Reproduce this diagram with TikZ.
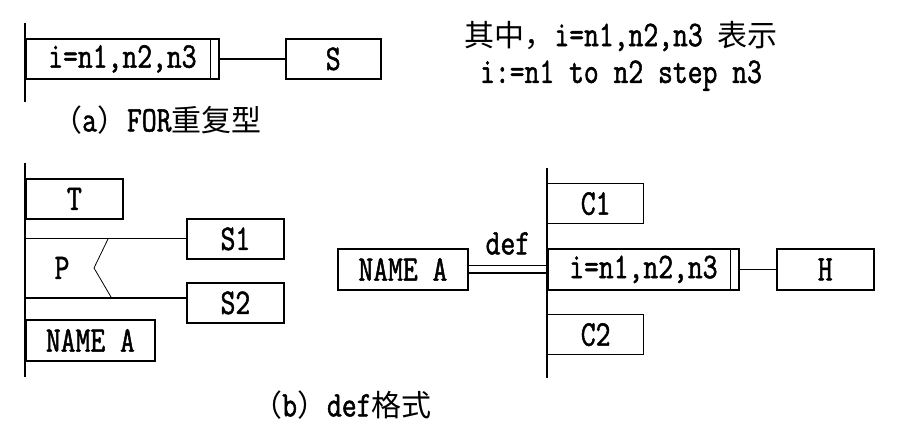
\documentclass[tikz,border=0pt]{standalone}
\usepackage{fontspec}
\setmonofont[FakeStretch=0.8,FakeBold=1.4]{Latin Modern Mono}
\newfontfamily\cjk{Noto Sans CJK SC}
\usepackage{tikz}
\usetikzlibrary{positioning,calc}
\newcommand{\zh}[1]{{\cjk\fontsize{30}{32}\selectfont #1}}
\tikzset{
block/.style = {draw, rectangle, line width=1.8pt, inner sep=0pt, minimum height=40pt, anchor=north west, font=\ttfamily\fontsize{36}{36}\selectfont},
subblock/.style = {block, line width=1.3pt},
spine/.style = {line width=2pt},
link/.style = {line width=1.6pt},
caption/.style = {inner sep=0pt, font=\ttfamily\fontsize{36}{36}\selectfont}
}
\begin{document}
\begin{tikzpicture}[x=1pt,y=-1pt]
   \useasboundingbox (0,0) rectangle (908,435);
   % (a) FOR
   \coordinate (topA) at (25,23);
   \coordinate (botA) at (25,102);
   \draw [spine] (topA) -- (botA);
   \node [block, minimum width=193pt] (forA) at (25,38) {i=n1,n2,n3};
   \draw [line width=1.2pt] ([xshift=-9pt]forA.north east) -- ([xshift=-9pt]forA.south east);
   \node [block, minimum width=95pt, right=65pt of forA] (sA) {S};
   \draw [link] (forA) -- (sA);
   \node [caption, anchor=west] (capA) at (52,120) {\zh{（}a\zh{）}FOR\zh{重复型}};
   % note
   \node [caption] (note1) at (621,36) {\zh{其中，}i=n1,n2,n3 \zh{表示}};
   \node [caption, below=9pt of note1] (note2) {i:=n1 to n2 step n3};
   % (b) left
   \coordinate (topB) at (25,163);
   \coordinate (botB) at (25,377);
   \draw [spine] (topB) -- (botB);
   \node [block, minimum width=97pt] (T) at (25,178) {T};
   \node [block, minimum width=97pt] (S1) at (186,218) {S1};
   \node [block, minimum width=97pt] (S2) at (186,282) {S2};
   \node [block, minimum width=129pt, minimum height=41pt] (nameL) at (25,319) {NAME A};
   \draw [line width=1.2pt] (S1.west -| topB) -- (S1.west);
   \draw [line width=2.2pt] ([yshift=5pt]S2.west -| topB) -- ([yshift=5pt]S2.west);
   \draw [line width=0.8pt] (108,239) -- (94,268) -- (111,297);
   \node [caption] (P) at (62,268) {P};
   % (b) right
   \coordinate (topC) at (547,168);
   \coordinate (botC) at (547,378);
   \node [subblock, minimum width=96pt] (C1) at (547,183) {C1};
   \node [block, minimum width=191pt, minimum height=41pt] (forB) at (547,248) {i=n1,n2,n3};
   \draw [line width=1.2pt] ([xshift=-9pt]forB.north east) -- ([xshift=-9pt]forB.south east);
   \node [subblock, minimum width=96pt] (C2) at (547,314) {C2};
   \node [block, minimum width=130pt, minimum height=41pt] (nameR) at (337,248) {NAME A};
   \node [block, minimum width=97pt, minimum height=41pt, right=36pt of forB] (H) {H};
   \draw [link] (forB) -- (H);
   \draw [double, double distance=6pt, line width=1.8pt] (nameR) -- (forB)
     node [caption, midway, yshift=26pt] (def) {def};
   \draw [line width=1.4pt] (topC) -- (botC);
   \node [caption, anchor=west] (capB) at (252,405) {\zh{（}b\zh{）}def\zh{格式}};
\end{tikzpicture}
\end{document}
